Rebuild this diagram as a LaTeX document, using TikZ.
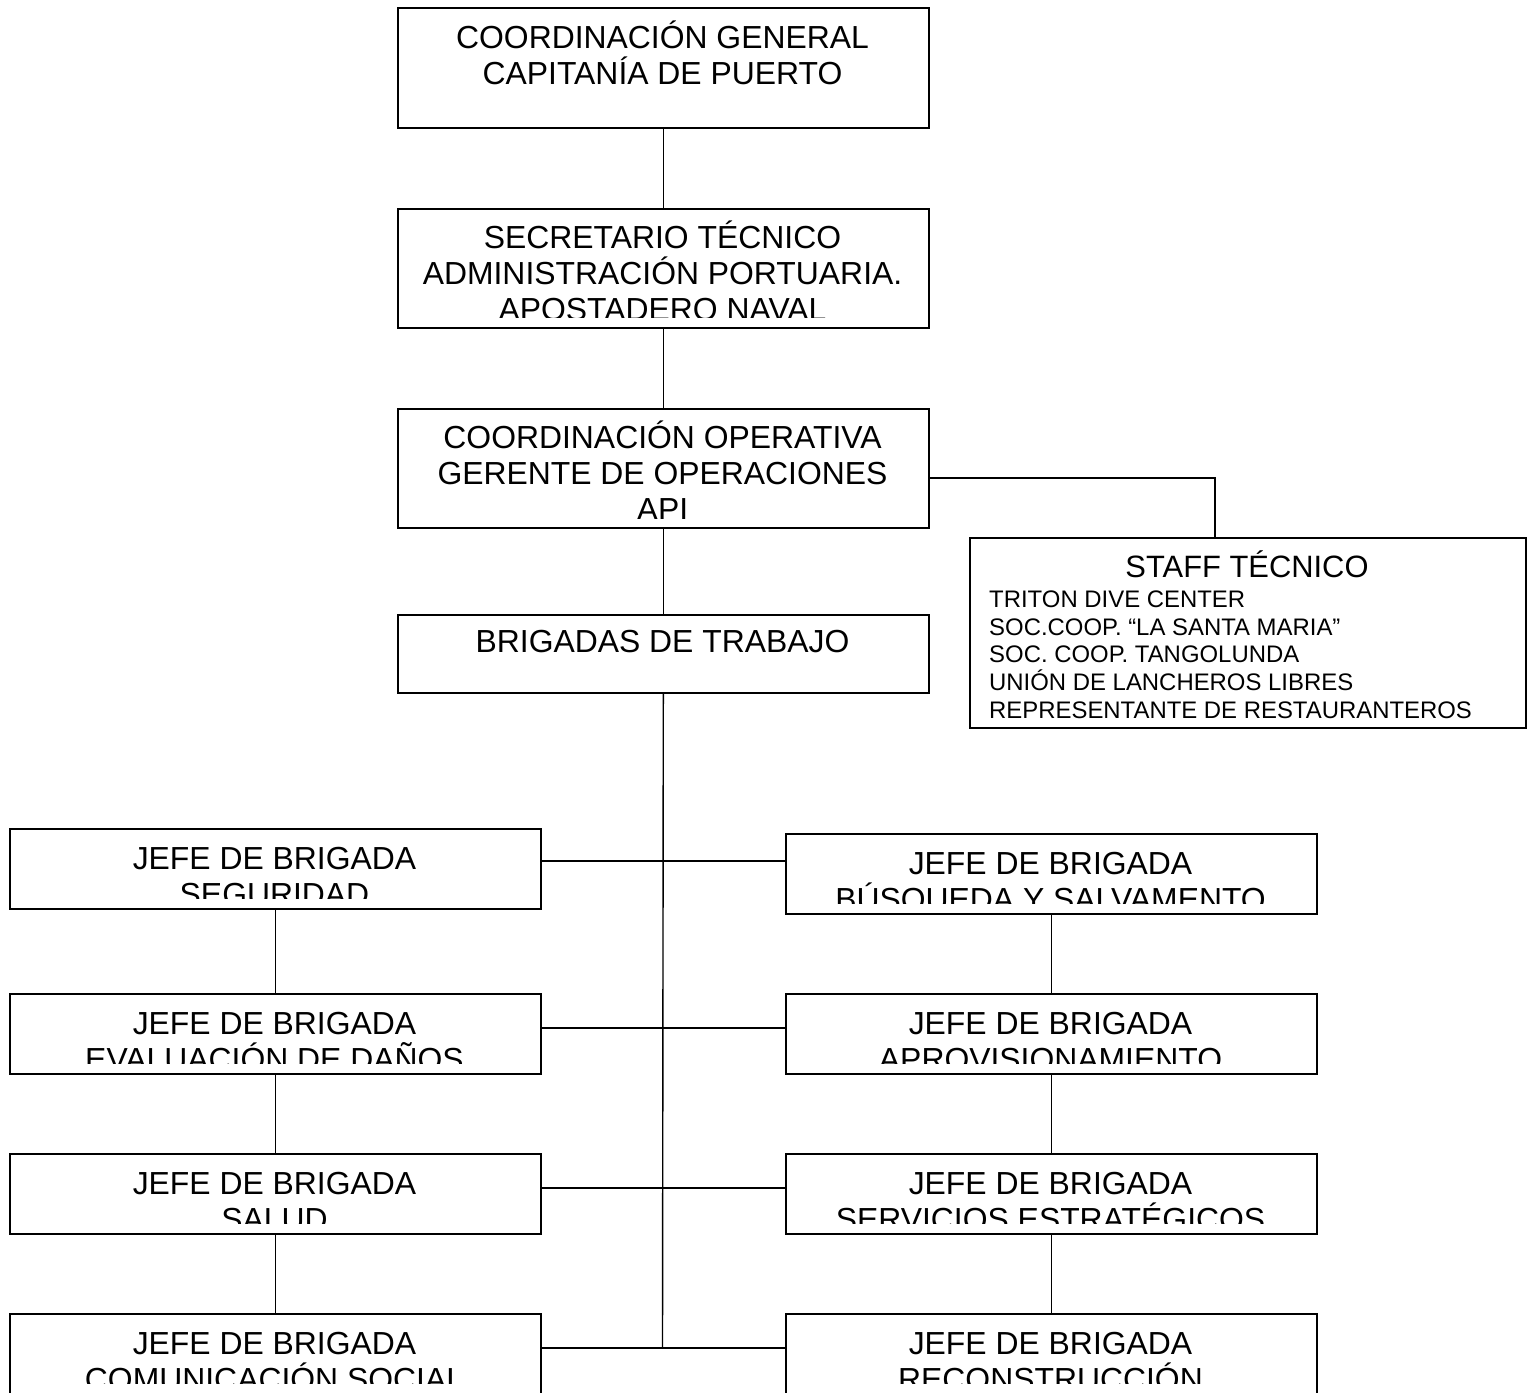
\documentclass[tikz,border=0pt]{standalone}
\usepackage{fontspec}
\setmainfont{Liberation Sans}
\begin{document}
\begin{tikzpicture}[x=1bp,y=-1bp,
  box/.style={draw, line width=1.6bp, inner sep=0, anchor=north west},
  wide/.style={box, minimum width=531bp, minimum height=120bp},
  brig/.style={box, minimum width=531bp, minimum height=80bp},
  txt/.style={anchor=base, inner sep=0, font=\fontsize{32}{36}\selectfont},
  stafftitle/.style={anchor=base, inner sep=0, font=\fontsize{31}{36}\selectfont},
  stafftxt/.style={anchor=base west, inner sep=0, font=\fontsize{24}{28}\selectfont},
  conn/.style={line width=1.4bp}]
\clip (0,0) rectangle (1527,1393);
\fill[white] (0,0) rectangle (1527,1393);

% boxes
\node[wide] (gen) at (397,7) {};
\node[wide, minimum height=119bp] (sec) at (397,208) {};
\node[wide, minimum height=119bp] (ope) at (397,408) {};
\node[box, minimum width=556bp, minimum height=190bp] (staff) at (969,537) {};
\node[box, minimum width=531bp, minimum height=78bp] (bt) at (397,614) {};
\node[brig] (l1) at (9,828) {};
\node[brig] (l2) at (9,993) {};
\node[brig] (l3) at (9,1153) {};
\node[brig] (l4) at (9,1313) {};
\node[brig] (r1) at (785,833) {};
\node[brig] (r2) at (785,993) {};
\node[brig] (r3) at (785,1153) {};
\node[brig] (r4) at (785,1313) {};

% texts (clipped like the reference)
\begin{scope}\clip (397,7) rectangle (928,117);
\node[txt] (gen1) at (662.5,48.5) {COORDINACIÓN GENERAL};
\node[txt] (gen2) at (662.5,84.5) {CAPITANÍA DE PUERTO};
\end{scope}
\begin{scope}\clip (397,208) rectangle (928,317);
\node[txt] (sec1) at (662.5,248.5) {SECRETARIO TÉCNICO};
\node[txt] (sec2) at (662.5,284.5) {ADMINISTRACIÓN PORTUARIA.};
\node[txt] (sec3) at (662.5,320.5) {APOSTADERO NAVAL};
\end{scope}
\begin{scope}\clip (397,408) rectangle (928,518);
\node[txt] (ope1) at (662.5,448.5) {COORDINACIÓN OPERATIVA};
\node[txt] (ope2) at (662.5,484.5) {GERENTE DE OPERACIONES};
\node[txt] (ope3) at (662.5,520.5) {API};
\end{scope}
\node[txt] (bt1) at (662.5,652.5) {BRIGADAS DE TRABAJO};
\node[stafftitle] (st0) at (1247,577) {STAFF TÉCNICO};
\node[stafftxt] (st1) at (989,607) {TRITON DIVE CENTER};
\node[stafftxt] (st2) at (989,635) {SOC.COOP. “LA SANTA MARIA”};
\node[stafftxt] (st3) at (989,662) {SOC. COOP. TANGOLUNDA};
\node[stafftxt] (st4) at (989,690) {UNIÓN DE LANCHEROS LIBRES};
\node[stafftxt] (st5) at (989,718) {REPRESENTANTE DE RESTAURANTEROS};

\begin{scope}\clip (9,828) rectangle (540,898);
\node[txt] (l1a) at (274.5,869.5) {JEFE DE BRIGADA};
\node[txt] (l1b) at (274.5,905.5) {SEGURIDAD};
\end{scope}
\begin{scope}\clip (9,993) rectangle (540,1063);
\node[txt] (l2a) at (274.5,1034.5) {JEFE DE BRIGADA};
\node[txt] (l2b) at (274.5,1070.5) {EVALUACIÓN DE DAÑOS};
\end{scope}
\begin{scope}\clip (9,1153) rectangle (540,1223);
\node[txt] (l3a) at (274.5,1194.5) {JEFE DE BRIGADA};
\node[txt] (l3b) at (274.5,1230.5) {SALUD};
\end{scope}
\begin{scope}\clip (9,1313) rectangle (540,1383);
\node[txt] (l4a) at (274.5,1354.5) {JEFE DE BRIGADA};
\node[txt] (l4b) at (274.5,1390.5) {COMUNICACIÓN SOCIAL};
\end{scope}
\begin{scope}\clip (785,833) rectangle (1316,903);
\node[txt] (r1a) at (1050.5,874.5) {JEFE DE BRIGADA};
\node[txt] (r1b) at (1050.5,910.5) {BÚSQUEDA Y SALVAMENTO};
\end{scope}
\begin{scope}\clip (785,993) rectangle (1316,1063);
\node[txt] (r2a) at (1050.5,1034.5) {JEFE DE BRIGADA};
\node[txt] (r2b) at (1050.5,1070.5) {APROVISIONAMIENTO};
\end{scope}
\begin{scope}\clip (785,1153) rectangle (1316,1223);
\node[txt] (r3a) at (1050.5,1194.5) {JEFE DE BRIGADA};
\node[txt] (r3b) at (1050.5,1230.5) {SERVICIOS ESTRATÉGICOS};
\end{scope}
\begin{scope}\clip (785,1313) rectangle (1316,1383);
\node[txt] (r4a) at (1050.5,1354.5) {JEFE DE BRIGADA};
\node[txt] (r4b) at (1050.5,1390.5) {RECONSTRUCCIÓN};
\end{scope}

% connectors
\coordinate (sj) at (1215,478);
\coordinate (j1) at (662.5,861);
\coordinate (j2) at (662.5,1028);
\coordinate (j3) at (662.5,1188);
\coordinate (j4) at (662.5,1348);
\draw[conn] (gen.south) -- (sec.north);
\draw[conn] (sec.south) -- (ope.north);
\draw[conn] (ope.south) -- (bt.north);
\draw[conn] (ope.east |- sj) -- (sj) -- (staff.north -| sj);
\draw[conn] (bt.south) -- (j4);
\draw[conn] (l1.east |- j1) -- (r1.west |- j1);
\draw[conn] (l2.east |- j2) -- (r2.west |- j2);
\draw[conn] (l3.east |- j3) -- (r3.west |- j3);
\draw[conn] (l4.east |- j4) -- (r4.west |- j4);
\draw[conn] (l1.south) -- (l2.north);
\draw[conn] (l2.south) -- (l3.north);
\draw[conn] (l3.south) -- (l4.north);
\draw[conn] (r1.south) -- (r2.north);
\draw[conn] (r2.south) -- (r3.north);
\draw[conn] (r3.south) -- (r4.north);
\end{tikzpicture}
\end{document}
